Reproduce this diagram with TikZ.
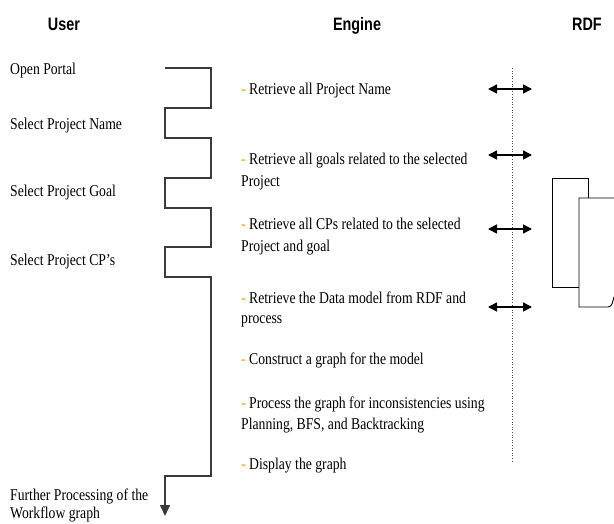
\documentclass[tikz,border=0pt]{standalone}
\usepackage{fontspec}
\setmainfont{Liberation Serif}[FakeStretch=0.83]
\newfontfamily\hdrfont{Liberation Sans}[FakeStretch=0.8]
\usetikzlibrary{arrows.meta}
\definecolor{dashorange}{HTML}{FF9900}
\definecolor{stepgray}{HTML}{3A3A3A}
\newcommand{\od}{\textcolor{dashorange}{-}}
\begin{document}
\begin{tikzpicture}[x=1pt,y=-1pt,
  hdr/.style={font=\hdrfont\bfseries\fontsize{18}{20}\selectfont, anchor=base, inner sep=0pt},
  lbl/.style={font=\fontsize{16.5}{18}\selectfont, anchor=base west, inner sep=0pt},
  stepline/.style={draw=stepgray, line width=1.6pt, line join=miter},
  xchg/.style={line width=1.5pt, {Triangle[length=9pt,width=9pt]}-{Triangle[length=9pt,width=9pt]}},
  divider/.style={draw=black!70, dotted, line width=0.6pt},
  docshape/.style={draw=black, line width=0.9pt, fill=white}]
\useasboundingbox (0,0) rectangle (614,523);
% headers
\node[hdr] (hUser) at (64,30) {User};
\node[hdr] (hEngine) at (357,30) {Engine};
\node[hdr] (hRDF) at (587,30) {RDF};
% user column
\node[lbl] (u1) at (10,74) {Open Portal};
\node[lbl] (u2) at (10,129) {Select Project Name};
\node[lbl] (u3) at (10,196) {Select Project Goal};
\node[lbl] (u4) at (10,265) {Select Project CP’s};
\node[lbl] (u5a) at (10,500) {Further Processing of the};
\node[lbl] (u5b) at (10,518.5) {Workflow graph};
% engine column
\node[lbl] (e1) at (241,94) {\od{} Retrieve all Project Name};
\node[lbl] (e2a) at (241,164) {\od{} Retrieve all goals related to the selected};
\node[lbl] (e2b) at (241,186) {Project};
\node[lbl] (e3a) at (241,229) {\od{} Retrieve all CPs related to the selected};
\node[lbl] (e3b) at (241,251) {Project and goal};
\node[lbl] (e4a) at (241,303) {\od{} Retrieve the Data model from RDF and};
\node[lbl] (e4b) at (241,323) {process};
\node[lbl] (e5) at (241,364) {\od{} Construct a graph for the model};
\node[lbl] (e6a) at (241,408) {\od{} Process the graph for inconsistencies using};
\node[lbl] (e6b) at (241,429) {Planning, BFS, and Backtracking};
\node[lbl] (e7) at (241,469) {\od{} Display the graph};
% step flow line
\coordinate (sStart) at (165,68);
\coordinate (sEnd) at (165,516);
\draw[stepline, -{Triangle[length=11pt,width=10pt]}]
  (sStart) -- (211,68) -- (211,108) -- (165,108) -- (165,138) -- (211,138)
  -- (211,178) -- (165,178) -- (165,208) -- (211,208) -- (211,247)
  -- (165,247) -- (165,277) -- (211,277) -- (211,476) -- (165,476) -- (sEnd);
% divider
\coordinate (dTop) at (512,68);
\coordinate (dBot) at (512,463);
\draw[divider] (dTop) -- (dBot);
% exchange arrows
\foreach \i/\yy in {1/89,2/155,3/229,4/307}{
  \coordinate (x\i l) at (488,\yy);
  \coordinate (x\i r) at (532,\yy);
  \draw[xchg] (x\i l) -- (x\i r);
}
% RDF documents
\draw[docshape] (552,178) rectangle (588,287);
\draw[docshape] (618,198) -- (579,198) -- (579,307) -- (608,307) to[out=0,in=250] (614,297) -- (618,297);
\end{tikzpicture}
\end{document}
